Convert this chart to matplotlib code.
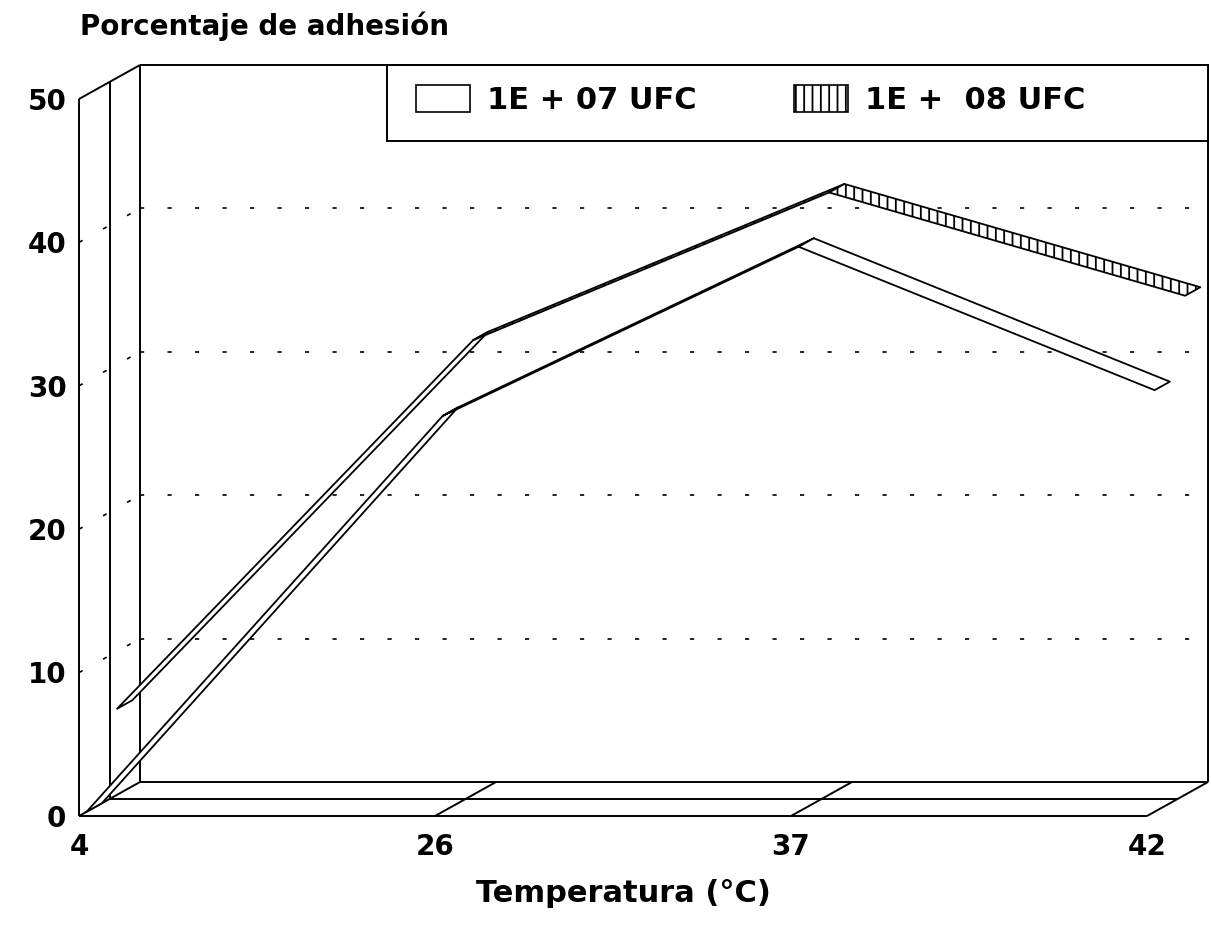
"""
Porcentaje de adhesion vs temperatura, 3D ribbon chart redrawn in 2D
"""
import matplotlib
matplotlib.use("Agg")
import matplotlib.pyplot as plt
from matplotlib.patches import Polygon, Patch, Rectangle

# Data
temps = ["4", "26", "37", "42"]
adh_1e7 = [0.0, 27.6, 39.4, 29.4]
adh_1e8 = [6.0, 31.7, 42.0, 34.8]
series_labels = ["1E + 07 UFC", "1E +  08 UFC"]
y_ticks = [0, 10, 20, 30, 40, 50]

# Layout (pixel based, figure is 1211x925 at 100 dpi)
W, H = 1211, 925
X0_PX, Y0_PX = 79, 816          # front corner of value 0 at first category
CAT_PX = 356.0                  # px between categories
VAL_PX = 14.34                  # px per unit of value
DX = 61 / CAT_PX                # depth offset in category units
DY = 34 / VAL_PX                # depth offset in value units
YMAX = 50

FONT = ["DejaVu Sans"]


def proj(x, v, d):
    """oblique projection of (category, value, depth) onto the 2D axes"""
    return x + d * DX, v + d * DY


def seg(ax, p0, p1, **kw):
    ax.plot([p0[0], p1[0]], [p0[1], p1[1]], **kw)


def dev():
    plt.rcParams["font.family"] = FONT
    plt.rcParams["hatch.linewidth"] = 1.3
    fig = plt.figure(figsize=(W / 100, H / 100), dpi=100)
    ax = fig.add_axes([0, 0, 1, 1])
    ax.set_xlim(-X0_PX / CAT_PX, (W - X0_PX) / CAT_PX)
    ax.set_ylim((Y0_PX - H) / VAL_PX, Y0_PX / VAL_PX)
    ax.set_axis_off()

    n = len(temps) - 1
    wall = dict(color="black", lw=1.4, solid_capstyle="butt", zorder=1)
    dots = dict(color="black", lw=1.2, linestyle=(0, (2.5, 14)), zorder=1)

    # floor: front, middle, back lines and category diagonals
    for d in (0, 0.5, 1):
        seg(ax, proj(0, 0, d), proj(n, 0, d), **wall)
    for i in range(len(temps)):
        seg(ax, proj(i, 0, 0), proj(i, 0, 1), **wall)

    # left wall
    for d in (0, 0.5, 1):
        seg(ax, proj(0, 0, d), proj(0, YMAX, d), **wall)
    seg(ax, proj(0, YMAX, 0), proj(0, YMAX, 1), **wall)

    # back wall edges
    seg(ax, proj(0, YMAX, 1), proj(n, YMAX, 1), **wall)
    seg(ax, proj(n, 0, 1), proj(n, YMAX, 1), **wall)

    # dotted grid on back and side walls
    for v in y_ticks[1:-1]:
        seg(ax, proj(0, v, 1), proj(n, v, 1), **dots)
        seg(ax, proj(0, v, 0), proj(0, v, 1), **dots)

    # ribbons, back series first
    ribbons = [(adh_1e8, (0.625, 0.875), "||", 3),
               (adh_1e7, (0.125, 0.375), None, 4)]
    for vals, (d0, d1), hatch, z in ribbons:
        for j in range(n):
            pts = [proj(j, vals[j], d0), proj(j + 1, vals[j + 1], d0),
                   proj(j + 1, vals[j + 1], d1), proj(j, vals[j], d1)]
            slope = vals[j + 1] - vals[j]
            top_visible = slope < DY / DX
            ax.add_patch(Polygon(pts, closed=True, facecolor="white",
                                 edgecolor="black", lw=1.3, zorder=z,
                                 hatch=hatch if top_visible else None,
                                 joinstyle="round"))

    # tick labels
    for v in y_ticks:
        ax.annotate(str(v), xy=(0, v), xytext=(-9, -2), textcoords="offset points",
                    ha="right", va="center", fontsize=20, fontweight="bold")
    for i, t in enumerate(temps):
        ax.annotate(t, xy=(i, 0), xytext=(0, -22), textcoords="offset points",
                    ha="center", va="center", fontsize=20, fontweight="bold")

    # titles
    fig.text(80 / W, 1 - 26 / H, "Porcentaje de adhesión", ha="left", va="center",
             fontsize=20, fontweight="bold")
    fig.text(623 / W, 1 - 894 / H, "Temperatura (°C)", ha="center", va="center",
             fontsize=22, fontweight="bold")

    # legend box sits in the top right corner of the back wall
    box_l, box_b = 387, 141
    bx0 = (box_l - X0_PX) / CAT_PX
    by0 = (Y0_PX - box_b) / VAL_PX
    bx1, by1 = proj(n, YMAX, 1)
    ax.add_patch(Rectangle((bx0, by0), bx1 - bx0, by1 - by0, facecolor="white",
                           edgecolor="black", lw=1.4, zorder=6))

    handles = [Patch(facecolor="white", edgecolor="black", lw=1.2),
               Patch(facecolor="white", edgecolor="black", lw=1.2, hatch="||")]
    leg = ax.legend(handles, series_labels, ncol=2, loc="center left",
                    bbox_to_anchor=(416 / W, 1 - 100 / H),
                    bbox_transform=fig.transFigure, borderaxespad=0, borderpad=0,
                    frameon=False, handlelength=1.76, handleheight=0.95,
                    handletextpad=0.55, columnspacing=3.2,
                    prop=dict(size=22, weight="bold"))
    leg.set_zorder(7)

    plt.savefig("out.png", dpi=100)
    plt.close()


def main():
    dev()


if __name__ == "__main__":
    main()
